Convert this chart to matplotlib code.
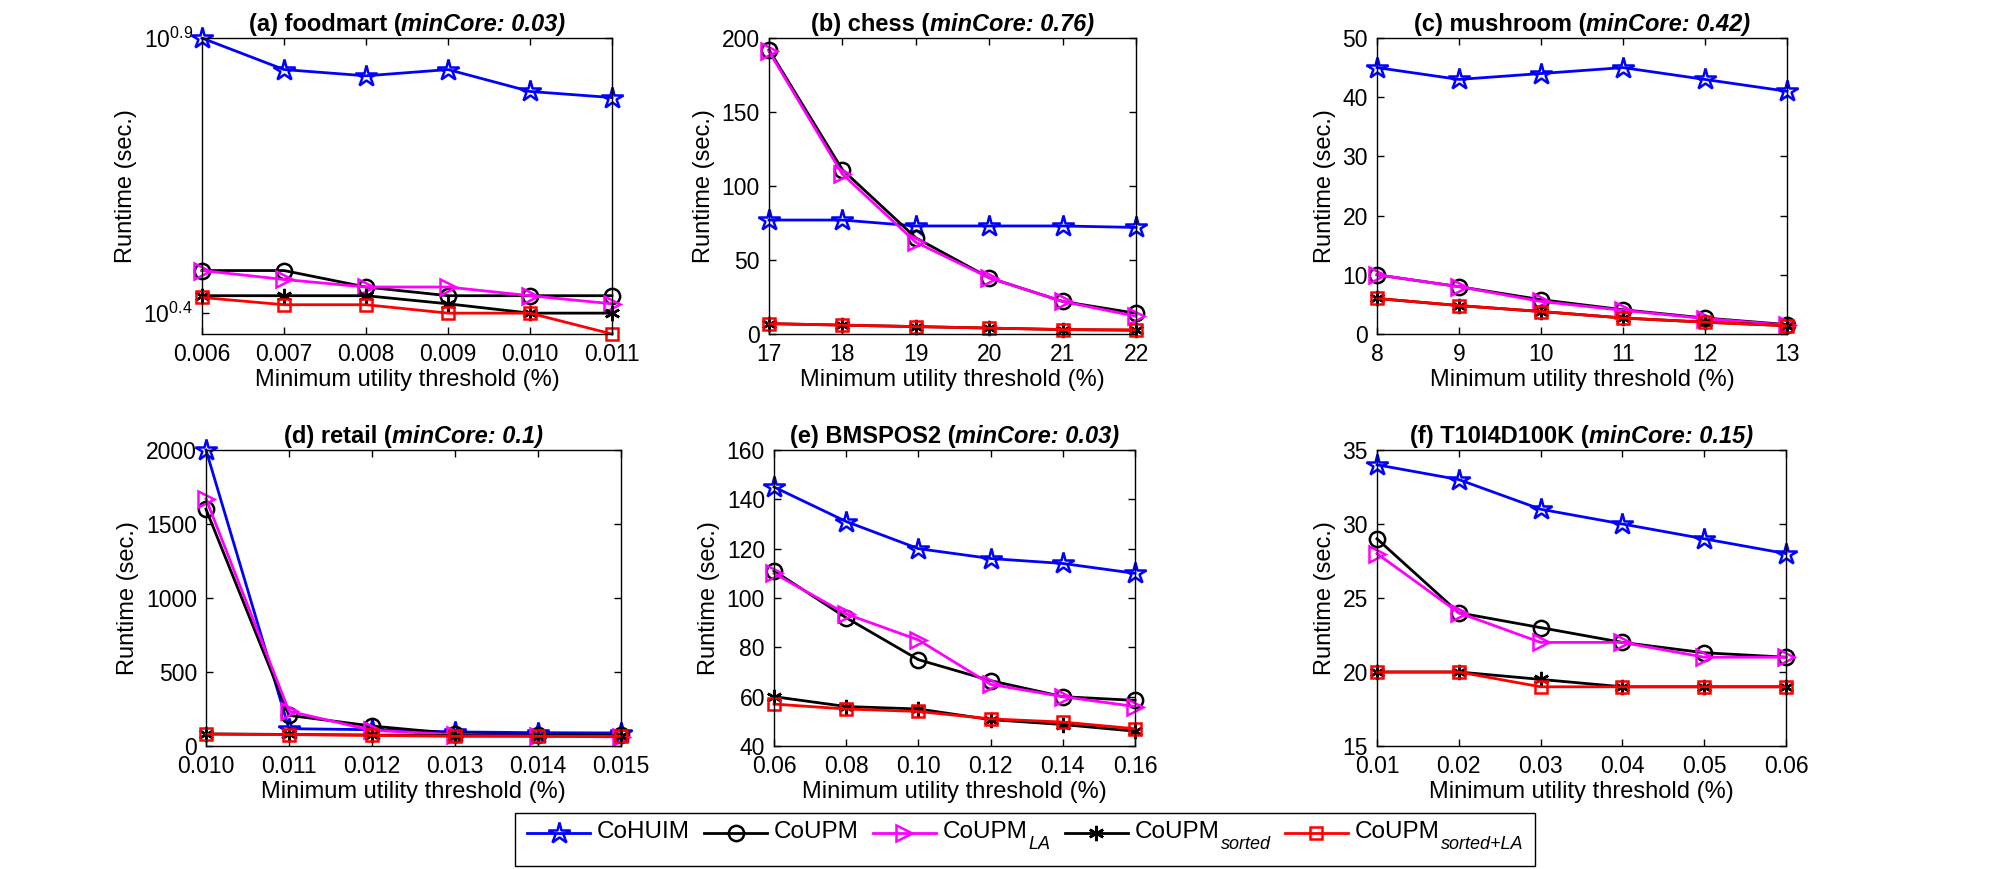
import matplotlib
matplotlib.use("Agg")
import matplotlib.pyplot as plt
from matplotlib.transforms import offset_copy
from matplotlib.ticker import FixedLocator, NullLocator, FormatStrFormatter
from matplotlib.lines import Line2D
from matplotlib.patches import Rectangle

plt.rcParams['font.family'] = ['Liberation Sans', 'DejaVu Sans']
plt.rcParams['mathtext.fontset'] = 'custom'
plt.rcParams['mathtext.rm'] = 'Liberation Sans'
plt.rcParams['mathtext.it'] = 'Liberation Sans:italic'
plt.rcParams['mathtext.bf'] = 'Liberation Sans:bold'

# ---------------- data ----------------
series_main = ['CoHUIM', 'CoUPM', 'CoUPM', 'CoUPM', 'CoUPM']
series_sub = ['', '', 'LA', 'sorted', 'sorted+LA']

foodmart_x = [0.006, 0.007, 0.008, 0.009, 0.010, 0.011]
foodmart_cohuim = [7.94, 6.96, 6.78, 6.96, 6.35, 6.19]
foodmart_coupm = [3.00, 3.00, 2.80, 2.70, 2.70, 2.70]
foodmart_la = [3.00, 2.89, 2.80, 2.80, 2.70, 2.61]
foodmart_sorted = [2.70, 2.70, 2.70, 2.61, 2.51, 2.51]
foodmart_sorted_la = [2.68, 2.60, 2.60, 2.51, 2.51, 2.30]

chess_x = [17, 18, 19, 20, 21, 22]
chess_cohuim = [77, 77, 73, 73, 73, 72]
chess_coupm = [192, 111, 65, 38, 22, 14]
chess_la = [191, 108, 62, 38, 22, 12]
chess_sorted = [7, 6, 5, 4, 3, 2.5]
chess_sorted_la = [7, 6, 5, 4, 3, 2.8]

mushroom_x = [8, 9, 10, 11, 12, 13]
mushroom_cohuim = [45, 43, 44, 45, 43, 41]
mushroom_coupm = [10, 8, 5.8, 4.1, 2.7, 1.6]
mushroom_la = [10, 8, 5.5, 4.0, 2.6, 1.5]
mushroom_sorted = [6, 4.8, 3.8, 2.7, 2.0, 1.4]
mushroom_sorted_la = [6, 4.8, 3.8, 2.7, 2.0, 1.4]

retail_x = [0.010, 0.011, 0.012, 0.013, 0.014, 0.015]
retail_cohuim = [2000, 117, 110, 95, 90, 88]
retail_coupm = [1600, 207, 135, 83, 77, 72]
retail_la = [1670, 235, 106, 77, 68, 61]
retail_sorted = [82, 78, 74, 70, 69, 68]
retail_sorted_la = [80, 77, 72, 65, 65, 65]

bmspos2_x = [0.06, 0.08, 0.10, 0.12, 0.14, 0.16]
bmspos2_cohuim = [145, 131, 120, 116, 114, 110]
bmspos2_coupm = [111, 92, 75, 66.5, 60, 58.5]
bmspos2_la = [110, 93.5, 83, 65, 60, 56]
bmspos2_sorted = [60, 56, 55, 50.7, 48.7, 46]
bmspos2_sorted_la = [57, 55, 54, 51, 49.7, 47]

t10_x = [0.01, 0.02, 0.03, 0.04, 0.05, 0.06]
t10_cohuim = [34, 33, 31, 30, 29, 28]
t10_coupm = [29, 24, 23, 22, 21.3, 21]
t10_la = [28, 24, 22, 22, 21, 21]
t10_sorted = [20, 20, 19.5, 19, 19, 19]
t10_sorted_la = [20, 20, 19, 19, 19, 19]

titles_left = ['(a) foodmart (', '(b) chess (', '(c) mushroom (',
               '(d) retail (', '(e) BMSPOS2 (', '(f) T10I4D100K (']
titles_right = ['minCore: 0.03)', 'minCore: 0.76)', 'minCore: 0.42)',
                'minCore: 0.1)', 'minCore: 0.03)', 'minCore: 0.15)']

# ---------------- styling ----------------
styles = [
    dict(color='blue', marker='*', ms=16, mfc='none', mew=1.8),
    dict(color='black', marker='o', ms=11, mfc='none', mew=1.8),
    dict(color='magenta', marker='>', ms=12, mfc='none', mew=1.8),
    dict(color='black', marker=(6, 2, 0), ms=11, mfc='none', mew=1.8),
    dict(color='red', marker='s', ms=9, mfc='none', mew=1.8),
]

W, H = 2000, 869
fig = plt.figure(figsize=(W / 100, H / 100), dpi=100)

# axes boxes in pixels: left, right, top, bottom
boxes = [
    (202, 612, 38, 334),
    (769, 1136, 38, 334),
    (1377, 1787, 38, 334),
    (206, 621, 450, 746),
    (774, 1135, 450, 746),
    (1377, 1786, 450, 746),
]

panels = [
    (foodmart_x, [foodmart_cohuim, foodmart_coupm, foodmart_la, foodmart_sorted, foodmart_sorted_la]),
    (chess_x, [chess_cohuim, chess_coupm, chess_la, chess_sorted, chess_sorted_la]),
    (mushroom_x, [mushroom_cohuim, mushroom_coupm, mushroom_la, mushroom_sorted, mushroom_sorted_la]),
    (retail_x, [retail_cohuim, retail_coupm, retail_la, retail_sorted, retail_sorted_la]),
    (bmspos2_x, [bmspos2_cohuim, bmspos2_coupm, bmspos2_la, bmspos2_sorted, bmspos2_sorted_la]),
    (t10_x, [t10_cohuim, t10_coupm, t10_la, t10_sorted, t10_sorted_la]),
]

ylims = [None, (0, 200), (0, 50), (0, 2000), (40, 160), (15, 35)]
ysteps = [None, 50, 10, 500, 20, 5]
xfmts = ['%.3f', '%d', '%d', '%.3f', '%.2f', '%.2f']

FS_TICK = 16.5
FS_LAB = 17
FS_TITLE = 17

renderer = fig.canvas.get_renderer()
for i, ((l, r, t, b), (xs, ys)) in enumerate(zip(boxes, panels)):
    ax = fig.add_axes([l / W, 1 - b / H, (r - l) / W, (b - t) / H])
    for yv, st in zip(ys, styles):
        ax.plot(xs, yv, lw=2, clip_on=False, **st)
    ax.set_xlim(xs[0], xs[-1])
    ax.xaxis.set_major_locator(FixedLocator(xs))
    ax.xaxis.set_major_formatter(FormatStrFormatter(xfmts[i]))
    if i == 0:
        ax.set_yscale('log')
        allv = [v for s in ys for v in s]
        ax.set_ylim(min(allv), 10 ** 0.9)
        ax.yaxis.set_major_locator(FixedLocator([10 ** 0.4, 10 ** 0.9]))
        ax.yaxis.set_minor_locator(NullLocator())
        ax.set_yticklabels(['$10^{0.4}$', '$10^{0.9}$'])
    else:
        lo, hi = ylims[i]
        ax.set_ylim(lo, hi)
        ax.set_yticks(list(range(lo, hi + 1, ysteps[i])))
    ax.tick_params(direction='in', top=True, right=True, length=5, width=1,
                   labelsize=FS_TICK, pad=6.5)
    for sp in ax.spines.values():
        sp.set_linewidth(1.0)
    ax.set_xlabel('Minimum utility threshold (%)', fontsize=FS_LAB, labelpad=2)
    ax.set_ylabel('Runtime (sec.)', fontsize=FS_LAB, labelpad=5)

    # mixed bold / bold-italic title
    t1 = ax.text(0.5, 1.0, titles_left[i], transform=ax.transAxes, fontsize=FS_TITLE,
                 fontweight='bold', ha='left', va='baseline')
    t2 = ax.text(0.5, 1.0, titles_right[i], transform=ax.transAxes, fontsize=FS_TITLE,
                 fontweight='bold', fontstyle='italic', ha='left', va='baseline')
    w1 = t1.get_window_extent(renderer).width
    w2 = t2.get_window_extent(renderer).width
    tot = w1 + w2
    t1.set_transform(offset_copy(ax.transAxes, fig=fig, x=-tot / 2, y=7, units='dots'))
    t2.set_transform(offset_copy(ax.transAxes, fig=fig, x=-tot / 2 + w1, y=7, units='dots'))

# ---------------- legend (built by hand for MATLAB-like subscripts) ----------------
LEG_FS = 17.5
SUB_FS = 13
HANDLE = 63
TEXTPAD = 7
COLSP = 14
PAD = 12
BASE_Y = 838      # main text baseline (px from top)
SUB_DROP = 11
LINE_Y = 833
BOX_TOP, BOX_BOT = 813, 866
CENTER_X = 1025


def fx(x):
    return x / W


def fy(y):
    return 1 - y / H


# measure widths
main_w, sub_w = [], []
for m, s in zip(series_main, series_sub):
    tm = fig.text(0, 0, m, fontsize=LEG_FS)
    main_w.append(tm.get_window_extent(renderer).width)
    tm.remove()
    if s:
        ts = fig.text(0, 0, s, fontsize=SUB_FS, fontstyle='italic')
        sub_w.append(ts.get_window_extent(renderer).width + 1)
        ts.remove()
    else:
        sub_w.append(0)

total = 2 * PAD + sum(HANDLE + TEXTPAD + mw + sw for mw, sw in zip(main_w, sub_w)) \
    + COLSP * (len(series_main) - 1)
x = CENTER_X - total / 2
box_left = x
x += PAD
for st, m, s, mw, sw in zip(styles, series_main, series_sub, main_w, sub_w):
    fig.add_artist(Line2D([fx(x), fx(x + HANDLE)], [fy(LINE_Y)] * 2,
                          transform=fig.transFigure, color=st['color'], lw=2))
    mk = dict(st)
    col = mk.pop('color')
    fig.add_artist(Line2D([fx(x + HANDLE / 2)], [fy(LINE_Y)], transform=fig.transFigure,
                          color=col, lw=0, **mk))
    tx = x + HANDLE + TEXTPAD
    fig.text(fx(tx), fy(BASE_Y), m, fontsize=LEG_FS, ha='left', va='baseline')
    if s:
        fig.text(fx(tx + mw + 1), fy(BASE_Y + SUB_DROP), s, fontsize=SUB_FS,
                 fontstyle='italic', ha='left', va='baseline')
    x = tx + mw + sw + COLSP
box_right = x - COLSP + PAD
fig.add_artist(Rectangle((fx(box_left), fy(BOX_BOT)), (box_right - box_left) / W,
                         (BOX_BOT - BOX_TOP) / H, transform=fig.transFigure,
                         fill=False, ec='black', lw=1.0))

fig.savefig('out.png', dpi=100, facecolor='white')
